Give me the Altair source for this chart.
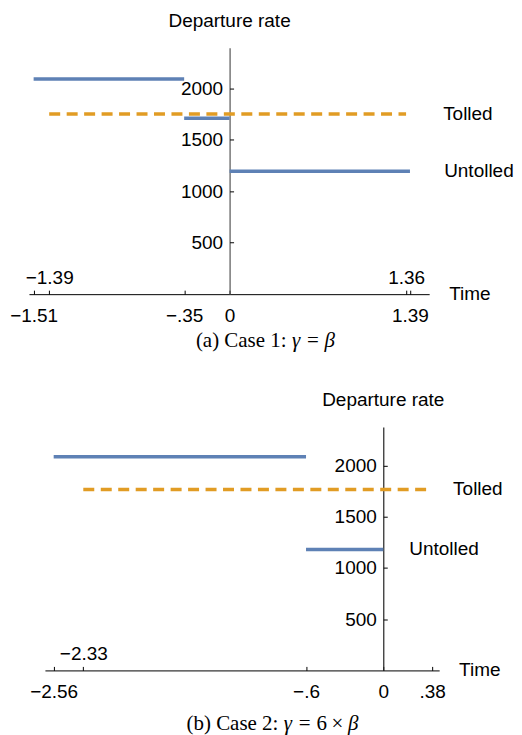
import altair as alt
import pandas as pd

BLUE = "#5E81B5"
ORANGE = "#E19C24"
SANS = "Liberation Sans"
SERIF = "Liberation Serif"

# ---------------- Panel (a): Case 1 ----------------
a_unt_start = [-1.51, -0.35, 0.0]
a_unt_end = [-0.35, 0.0, 1.39]
a_unt_rate = [2090, 1710, 1195]
a_tol_start = [-1.39]
a_tol_end = [1.36]
a_tol_rate = [1750]
a_ticks_below = [-1.51, -0.35, 0.0, 1.39]
a_labels_below = ["−1.51", "−.35", "0", "1.39"]
a_ticks_above = [-1.39, 1.36]
a_labels_above = ["−1.39", "1.36"]
a_caption = [("(a) Case 1:", False), ("γ", True), ("=", False), ("β", True)]

# ---------------- Panel (b): Case 2 ----------------
b_unt_start = [-2.56, -0.6]
b_unt_end = [-0.6, 0.0]
b_unt_rate = [2085, 1180]
b_tol_start = [-2.33]
b_tol_end = [0.38]
b_tol_rate = [1765]
b_ticks_below = [-2.56, -0.6, 0.0, 0.38]
b_labels_below = ["−2.56", "−.6", "0", ".38"]
b_ticks_above = [-2.33]
b_labels_above = ["−2.33"]
b_caption = [("(b) Case 2:", False), ("γ", True), ("=", False), ("6", False),
             ("×", False), ("β", True)]

y_ticks = [500, 1000, 1500, 2000]
series_names = ["Untolled", "Tolled"]

# approximate Times-like advance widths (em) used only to lay out caption pieces
EM = {"(": .333, ")": .333, "a": .444, "b": .5, " ": .25, "C": .667, "s": .389,
      "e": .444, "1": .5, "2": .5, "6": .5, ":": .278, "=": .564, "×": .564,
      "γ": .44, "β": .5}
GAP = {"γ": .25, "=": .278, "6": .278, "×": .222, "β": .222}


def label_expr(vals, labels):
    parts = "".join(
        f"abs(datum.value - ({v})) < 1e-6 ? '{l}' : " for v, l in zip(vals, labels)
    )
    return parts + "''"


def caption_layers(pieces, cx, cy, size):
    # gaps before each piece (em)
    widths, gaps = [], []
    for i, (t, _) in enumerate(pieces):
        widths.append(sum(EM.get(c, .5) for c in t))
        if i == 0:
            gaps.append(0)
        else:
            g = GAP.get(t, .25)
            if pieces[i - 1][0] == "=":
                g = .278
            if pieces[i - 1][0] == "×":
                g = .222
            gaps.append(g)
    total = (sum(widths) + sum(gaps)) * size
    x = cx - total / 2
    layers = []
    for (t, ital), w, g in zip(pieces, widths, gaps):
        x += g * size
        layers.append(
            alt.Chart(pd.DataFrame({"t": [t]})).mark_text(
                fontSize=size, font=SERIF, align="left", baseline="middle",
                color="black", fontStyle="italic" if ital else "normal").encode(
                x=alt.value(x), y=alt.value(cy), text="t:N")
        )
        x += w * size
    return layers


def panel(unt_s, unt_e, unt_r, tol_s, tol_e, tol_r,
          tb, lb, ta, la, xdom, rng, ydom, W, H, caption, cap_cx, cap_dy,
          tol_lab_x, unt_lab_x, yaxis_color):
    xscale = alt.Scale(domain=xdom, range=rng, nice=False, zero=False)
    yscale = alt.Scale(domain=ydom, nice=False, zero=False)
    px0 = rng[0] + (0 - xdom[0]) / (xdom[1] - xdom[0]) * (rng[1] - rng[0])

    unt_df = pd.DataFrame({"s": unt_s, "e": unt_e, "r": unt_r})
    tol_df = pd.DataFrame({"s": tol_s, "e": tol_e, "r": tol_r})

    x_bottom = alt.Axis(orient="bottom", values=tb, labelExpr=label_expr(tb, lb),
                        ticks=False, tickSize=0, domain=True, domainColor="black",
                        domainWidth=1, labelFontSize=19, labelPadding=12,
                        labelColor="black", labelFont=SANS, title=None, grid=False,
                        labelOverlap=False, labelFlush=False)
    y_left = alt.Axis(orient="left", offset=-px0, values=y_ticks, format="d",
                      ticks=False, tickSize=0, domain=True, domainColor=yaxis_color,
                      domainWidth=1.2, labelFontSize=19, labelPadding=7,
                      labelColor="black", labelFont=SANS, title=None, grid=False)
    x_top = alt.Axis(orient="top", offset=-H, values=sorted(tb + ta),
                     labelExpr=label_expr(ta, la), ticks=True, tickSize=4,
                     tickColor="black", domain=False, labelFontSize=19,
                     labelPadding=3, labelColor="black", labelFont=SANS,
                     title=None, grid=False, labelOverlap=False, labelFlush=False)
    y_right = alt.Axis(orient="right", offset=-(W - px0), values=y_ticks,
                       ticks=True, tickSize=4, tickColor="black", labels=False,
                       domain=False, title=None, grid=False)

    unt = alt.Chart(unt_df).mark_rule(color=BLUE, strokeWidth=3.5).encode(
        x=alt.X("s:Q", scale=xscale, axis=x_bottom),
        x2="e:Q",
        y=alt.Y("r:Q", scale=yscale, axis=y_left),
    )
    tol = alt.Chart(tol_df).mark_rule(color=ORANGE, strokeWidth=3.5,
                                      strokeDash=[11, 6.5]).encode(
        x=alt.X("s:Q", scale=xscale, axis=x_top),
        x2="e:Q",
        y=alt.Y("r:Q", scale=yscale, axis=y_right),
    )

    title_df = pd.DataFrame({"x": [0.0], "t": ["Departure rate"]})
    ytitle = alt.Chart(title_df).mark_text(fontSize=19, font=SANS, align="center",
                                           baseline="middle", color="black").encode(
        x=alt.X("x:Q", axis=None), y=alt.value(-27), text="t:N")

    tol_lab = alt.Chart(pd.DataFrame({"r": tol_r[:1], "t": [series_names[1]]})).mark_text(
        fontSize=19, font=SANS, align="left", baseline="middle", color="black").encode(
        x=alt.value(tol_lab_x), y=alt.Y("r:Q", axis=None), text="t:N")
    unt_lab = alt.Chart(pd.DataFrame({"r": unt_r[-1:], "t": [series_names[0]]})).mark_text(
        fontSize=19, font=SANS, align="left", baseline="middle", color="black").encode(
        x=alt.value(unt_lab_x), y=alt.Y("r:Q", axis=None), text="t:N")

    time_lab = alt.Chart(pd.DataFrame({"t": ["Time"]})).mark_text(
        fontSize=19, font=SANS, align="left", baseline="middle", color="black").encode(
        x=alt.value(W + 20), y=alt.value(H), text="t:N")

    caps = caption_layers(caption, cap_cx, H + cap_dy, 21)

    return alt.layer(unt, tol, ytitle, tol_lab, unt_lab, time_lab, *caps).resolve_axis(
        x="independent", y="independent").properties(width=W, height=H)


W1, H1 = 401, 247
W2, H2 = 411, 244
p1 = panel(a_unt_start, a_unt_end, a_unt_rate, a_tol_start, a_tol_end, a_tol_rate,
           a_ticks_below, a_labels_below, a_ticks_above, a_labels_above,
           [-1.546, 1.538], [0, W1], [0, 2395], W1, H1,
           a_caption, 237, 47, W1 + 14, W1 + 15, "#555555")
p2 = panel(b_unt_start, b_unt_end, b_unt_rate, b_tol_start, b_tol_end, b_tol_rate,
           b_ticks_below, b_labels_below, b_ticks_above, b_labels_above,
           [-2.628, 0.434], [16, W2], [0, 2375], W2, H2,
           b_caption, 244, 54, W2 + 14, 381, "#222222")

chart = alt.vconcat(p1, p2, spacing=133, bounds="flush").configure_view(
    stroke=None).properties(padding={"left": 1, "top": 3, "right": 0, "bottom": 5})

chart.save("out.html", embed_options={"renderer": "svg", "actions": False})
